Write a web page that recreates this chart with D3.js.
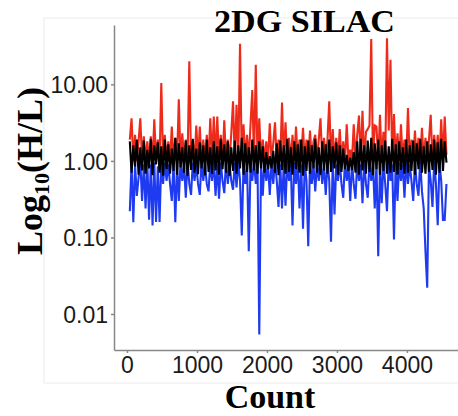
<!DOCTYPE html>
<meta charset="utf-8">
<script src="https://d3js.org/d3.v7.min.js"></script>
<style>
  body { margin: 0; background: #fff; }
  .tick text { font-family: "Liberation Sans", Arial, sans-serif; font-size: 23px; fill: #1a1a1a; }
  .domain, .tick line { stroke: #888; stroke-width: 1.5px; }
  .ttl { font-family: "Liberation Serif", "Times New Roman", serif; font-weight: bold; fill: #000; }
</style>
<div id="chart"></div>
<script>

// counts are sampled every 25 from 40
var countStart = 40, countStep = 25;

// H/L ratio, black series (middle band)
var blackVals = [
  1.8, 0.7, 1.6, 0.85, 1.9, 0.66, 1.5, 0.75, 1.85, 0.68,
  1.4, 0.8, 1.95, 0.65, 1.6, 0.9, 1.75, 0.7, 1.55, 0.64,
  1.9, 0.78, 1.65, 0.68, 1.45, 0.74, 2.0, 0.66, 1.7, 0.82,
  1.5, 0.7, 1.85, 0.64, 1.6, 0.76, 1.95, 0.7, 1.45, 0.67,
  1.75, 0.8, 1.6, 0.65, 1.9, 0.72, 1.5, 0.68, 1.8, 0.75,
  1.55, 0.66, 1.95, 0.78, 1.65, 0.7, 1.8, 0.64, 1.5, 0.74,
  1.85, 0.68, 1.6, 0.8, 2.0, 0.66, 1.7, 0.72, 1.5, 0.7,
  1.9, 0.75, 1.6, 0.68, 1.8, 0.8, 1.55, 0.7, 1.3, 0.78,
  1.15, 0.8, 1.35, 0.7, 1.7, 0.65, 1.85, 0.76, 1.6, 0.68,
  1.95, 0.72, 1.5, 0.66, 1.8, 0.78, 1.65, 0.7, 1.9, 0.64,
  1.55, 0.74, 1.85, 0.68, 1.6, 0.8, 1.95, 0.7, 1.5, 0.66,
  1.8, 0.75, 1.65, 0.68, 1.9, 0.72, 1.55, 0.8, 1.75, 0.66,
  1.6, 0.72, 1.45, 0.78, 1.2, 0.74, 1.1, 0.76, 1.3, 0.7,
  1.8, 0.66, 1.95, 0.75, 1.6, 0.68, 1.85, 0.72, 2.0, 0.65,
  1.7, 0.78, 1.9, 0.66, 1.6, 0.74, 1.85, 0.68, 1.55, 0.7,
  1.95, 0.72, 1.65, 0.66, 1.8, 0.76, 1.5, 0.68, 1.9, 0.7,
  1.6, 0.74, 1.85, 0.66, 1.7, 0.78, 1.95, 0.7, 1.55, 0.68,
  1.8, 0.72, 1.65, 0.76, 1.9, 0.66, 1.75, 0.7, 1.95, 0.74,
  1.8, 0.95
];

// red series (upper spikes)
var redVals = [
  1.9, 3.6, 1.0, 2.2, 1.0, 1.8, 3.6, 1.0, 2.1, 1.0,
  1.8, 1.0, 2.1, 1.0, 3.5, 1.0, 1.9, 1.0, 10.4, 1.0,
  2.2, 1.0, 1.8, 1.0, 2.8, 1.0, 2.0, 1.0, 6.4, 1.0,
  2.3, 1.0, 1.9, 1.0, 20, 1.0, 1.8, 1.0, 2.9, 1.0,
  2.8, 1.0, 1.9, 1.0, 2.2, 1.0, 3.6, 1.0, 3.8, 1.0,
  3.8, 1.0, 2.2, 1.0, 3.4, 1.0, 1.9, 1.0, 2.3, 6.0,
  1.0, 5.4, 1.0, 34, 1.0, 3.0, 1.0, 2.2, 1.0, 3.0,
  8.4, 1.0, 18, 1.0, 3.6, 1.0, 1.9, 1.0, 1.8, 1.0,
  3.1, 1.0, 1.7, 3.2, 1.0, 1.9, 1.0, 5.8, 1.0, 3.2,
  1.0, 2.0, 1.0, 2.2, 1.0, 2.8, 1.0, 1.9, 1.0, 2.7,
  1.0, 1.9, 1.0, 2.5, 1.0, 1.8, 2.2, 1.0, 1.9, 3.6,
  1.0, 2.0, 1.0, 1.9, 6.0, 1.0, 2.6, 1.0, 2.0, 1.0,
  2.6, 1.0, 1.8, 1.0, 3.0, 1.0, 1.4, 1.0, 3.0, 1.0,
  2.2, 3.9, 1.0, 4.5, 1.0, 2.4, 2.6, 2.9, 39, 1.0,
  2.9, 2.8, 1.0, 4.0, 1.0, 2.4, 1.0, 40, 2.5, 21,
  1.0, 4.1, 1.0, 2.3, 1.0, 3.0, 1.0, 1.9, 1.0, 4.9,
  1.0, 1.9, 1.0, 2.5, 1.0, 2.0, 1.0, 2.7, 1.0, 2.0,
  1.0, 1.9, 4.0, 1.0, 2.2, 1.0, 2.2, 1.0, 3.5, 1.0,
  3.8, 1.2
];

// blue series (lower dips)
var blueVals = [
  0.22, 0.95, 0.158, 0.9, 0.35, 0.6, 1.0, 0.3, 0.9, 0.24,
  1.0, 0.17, 0.9, 0.143, 0.95, 0.16, 0.85, 0.16, 1.0, 0.5,
  0.95, 0.55, 0.9, 0.5, 0.3, 1.0, 0.158, 0.9, 0.3, 0.95,
  0.55, 0.9, 0.33, 1.0, 0.5, 0.36, 0.95, 0.55, 0.9, 0.5,
  0.36, 1.0, 0.55, 0.9, 0.5, 0.4, 0.95, 0.55, 1.0, 0.35,
  0.9, 0.32, 0.95, 0.55, 0.38, 1.0, 0.5, 0.9, 0.55, 0.42,
  0.95, 0.45, 1.0, 0.55, 0.106, 0.9, 0.5, 0.95, 0.066, 0.9,
  0.55, 1.0, 0.5, 0.9, 0.0054, 0.95, 0.35, 1.0, 0.55, 0.9,
  0.36, 0.95, 0.5, 1.0, 0.55, 0.25, 0.9, 0.24, 0.95, 0.26,
  1.0, 0.55, 0.9, 0.143, 0.95, 0.5, 1.0, 0.24, 0.9, 0.13,
  0.95, 0.55, 0.077, 1.0, 0.5, 0.9, 0.4, 0.95, 0.55, 1.0,
  0.5, 0.9, 0.36, 0.95, 0.55, 0.088, 1.0, 0.2, 0.9, 0.55,
  0.95, 0.5, 0.33, 1.0, 0.55, 0.9, 0.3, 0.95, 0.5, 0.32,
  1.0, 0.55, 0.9, 0.28, 0.95, 0.5, 0.33, 1.0, 0.55, 0.9,
  0.24, 0.95, 0.057, 0.9, 0.28, 1.0, 0.5, 0.22, 0.95, 0.55,
  0.9, 0.094, 1.0, 0.3, 0.95, 0.55, 0.9, 0.33, 1.0, 0.5,
  0.9, 0.55, 0.3, 0.95, 0.5, 0.35, 1.0, 0.4, 0.24, 0.066,
  0.022, 0.9, 0.55, 0.25, 1.0, 0.5, 0.145, 0.95, 0.55, 0.17,
  0.17, 0.5
];

var xTicks = [0, 1000, 2000, 3000, 4000];
var yTicks = [0.01, 0.1, 1, 10];

var width = 458, height = 416;

var svg = d3.select("#chart")
  .append("svg")
    .attr("width", width)
    .attr("height", height);

// faint outer panel frame
svg.append("rect")
  .attr("x", 44).attr("y", 18)
  .attr("width", 420).attr("height", 365)
  .attr("fill", "none")
  .attr("stroke", "#ececec")
  .attr("stroke-width", 1);

var x = d3.scaleLinear()
  .domain([-186, 4730])
  .range([114, 458]);

var y = d3.scaleLog()
  .domain([0.00339, 59.6])
  .range([350, 25]);

// lines: red under, then blue, black on top
var line = d3.line()
  .x(function(d, i) { return x(countStart + i * countStep); })
  .y(function(d) { return y(d); });

var series = [
  {vals: redVals, color: "#ee2a1b"},
  {vals: blueVals, color: "#1f3bf2"},
  {vals: blackVals, color: "#000000"}
];

svg.selectAll(".series")
  .data(series)
  .enter().append("path")
    .attr("class", "series")
    .attr("fill", "none")
    .attr("stroke", function(d) { return d.color; })
    .attr("stroke-width", 2.1)
    .attr("d", function(d) { return line(d.vals); });

// axes
svg.append("g")
  .attr("transform", "translate(114,0)")
  .call(d3.axisLeft(y).tickValues(yTicks).tickFormat(d3.format(".2f")).tickSize(3).tickSizeOuter(0).tickPadding(3))
  .call(function(g) { g.selectAll(".tick text").attr("dy", "0.36em"); });

svg.append("g")
  .attr("transform", "translate(0,350)")
  .call(d3.axisBottom(x).tickValues(xTicks).tickFormat(d3.format("d")).tickSize(3).tickSizeOuter(0).tickPadding(4));

svg.selectAll(".domain").attr("stroke", "#888");

// title and axis titles
svg.append("text")
  .attr("class", "ttl")
  .attr("x", 304.5).attr("y", 31.5)
  .attr("text-anchor", "middle")
  .attr("font-size", 32)
  .attr("textLength", 181)
  .attr("lengthAdjust", "spacingAndGlyphs")
  .text("2DG SILAC");

svg.append("text")
  .attr("class", "ttl")
  .attr("x", 270).attr("y", 408)
  .attr("text-anchor", "middle")
  .attr("font-size", 34)
  .text("Count");

var yl = svg.append("text")
  .attr("class", "ttl")
  .attr("transform", "translate(42,171) rotate(-90)")
  .attr("text-anchor", "middle")
  .attr("font-size", 36);
yl.append("tspan").text("Log");
yl.append("tspan").attr("font-size", 22).attr("dy", 7).text("10");
yl.append("tspan").attr("dy", -7).text("(H/L)");

</script>
